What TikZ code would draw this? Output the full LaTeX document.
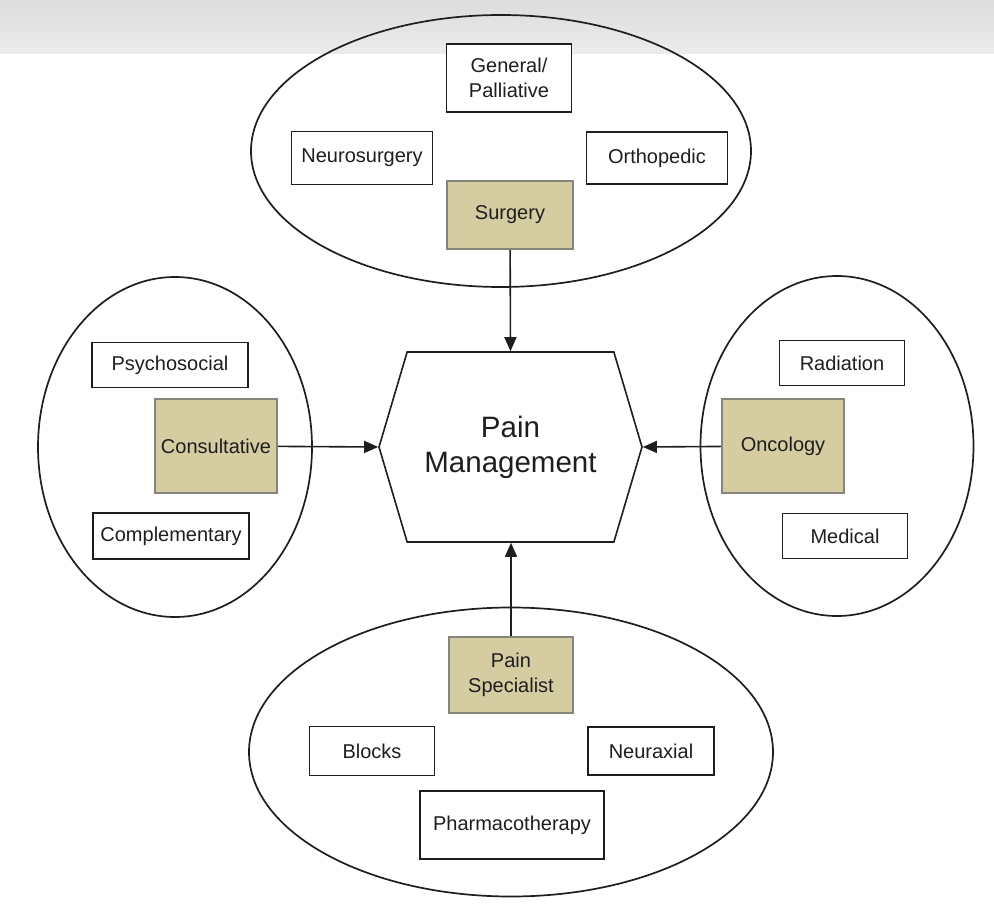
\documentclass[tikz,border=0pt]{standalone}
\usepackage{fontspec}
\setmainfont{Liberation Sans}
\usepackage{tikz}
\usetikzlibrary{shapes.geometric, shapes.symbols, arrows.meta, positioning}
\usepackage{xcolor}
\definecolor{inkgrey}{HTML}{1E1E1E}
\definecolor{khaki}{HTML}{D5CCA2}
\definecolor{khakiedge}{HTML}{85857C}
\definecolor{scanband}{HTML}{DCDCDC}
\tikzset{
  ring/.style={ellipse, draw=inkgrey, line width=1.7pt, inner sep=0pt},
  unitbox/.style={rectangle, draw=inkgrey, fill=white, line width=1.6pt,
                  align=center, inner sep=2pt, text=inkgrey,
                  font=\fontsize{20}{25}\selectfont},
  leadbox/.style={rectangle, draw=khakiedge, fill=khaki, line width=1.6pt,
                  align=center, inner sep=2pt, text=inkgrey,
                  font=\fontsize{20}{25}\selectfont},
  hubnode/.style={signal, signal to=east and west, signal pointer angle=147,
                  draw=inkgrey, fill=white, line width=1.6pt, align=center,
                  text=inkgrey, minimum width=263pt, minimum height=190pt,
                  inner sep=0pt, font=\fontsize{29.5}{35}\selectfont},
  link/.style={-{Triangle[length=14pt,width=12pt]}, line width=1.6pt, draw=inkgrey},
}

\begin{document}
\begin{tikzpicture}[x=1pt, y=-1pt]
  \useasboundingbox (0,0) rectangle (994,923);
  \shade[top color=scanband, bottom color=scanband!55] (0,0) rectangle (994,54);

  % --- rings ---
  \node[ring, minimum width=500pt, minimum height=272pt] (surgring) at (501,151) {};
  \node[ring, minimum width=274pt, minimum height=340pt] (consring) at (175,447) {};
  \node[ring, minimum width=273pt, minimum height=340pt] (oncring) at (837,446) {};
  \node[ring, minimum width=524pt, minimum height=289pt] (painring) at (511,752) {};

  % --- surgery ---
  \node[unitbox, minimum width=125pt, minimum height=68pt] (genpal) at (509,78) {General/\\Palliative};
  \node[unitbox, minimum width=141pt, minimum height=53pt] (neuro) at (362,158) {Neurosurgery};
  \node[unitbox, minimum width=141pt, minimum height=52pt] (ortho) at (657,158) {Orthopedic};
  \node[leadbox, minimum width=126pt, minimum height=68pt] (surg) at (510,215) {Surgery};

  % --- consultative ---
  \node[unitbox, minimum width=156pt, minimum height=45pt] (psycho) at (170,365) {Psychosocial};
  \node[leadbox, minimum width=122pt, minimum height=94pt] (consult) at (216,446) {Consultative};
  \node[unitbox, minimum width=156pt, minimum height=46pt] (compl) at (171,536) {Complementary};

  % --- oncology ---
  \node[unitbox, minimum width=125pt, minimum height=45pt] (radia) at (842,363) {Radiation};
  \node[leadbox, minimum width=122pt, minimum height=94pt] (onco) at (783,446) {Oncology};
  \node[unitbox, minimum width=125pt, minimum height=45pt] (medic) at (845,536) {Medical};

  % --- pain specialist ---
  \node[leadbox, minimum width=124pt, minimum height=76pt] (painspec) at (511,675) {Pain\\Specialist};
  \node[unitbox, minimum width=125pt, minimum height=49pt] (blocks) at (372,751) {Blocks};
  \node[unitbox, minimum width=126pt, minimum height=48pt] (neurax) at (651,751) {Neuraxial};
  \node[unitbox, minimum width=184pt, minimum height=68pt] (pharma) at (512,825) {Pharmacotherapy};

  % --- hub ---
  \node[hubnode] (hub) at (510.5,447) {Pain\\Management};

  \draw[link] (surg) -- (hub.north);
  \draw[link] (consult) -- (hub.west);
  \draw[link] (onco) -- (hub.east);
  \draw[link] (painspec.north) -- (painspec.north |- hub.south);
\end{tikzpicture}
\end{document}
